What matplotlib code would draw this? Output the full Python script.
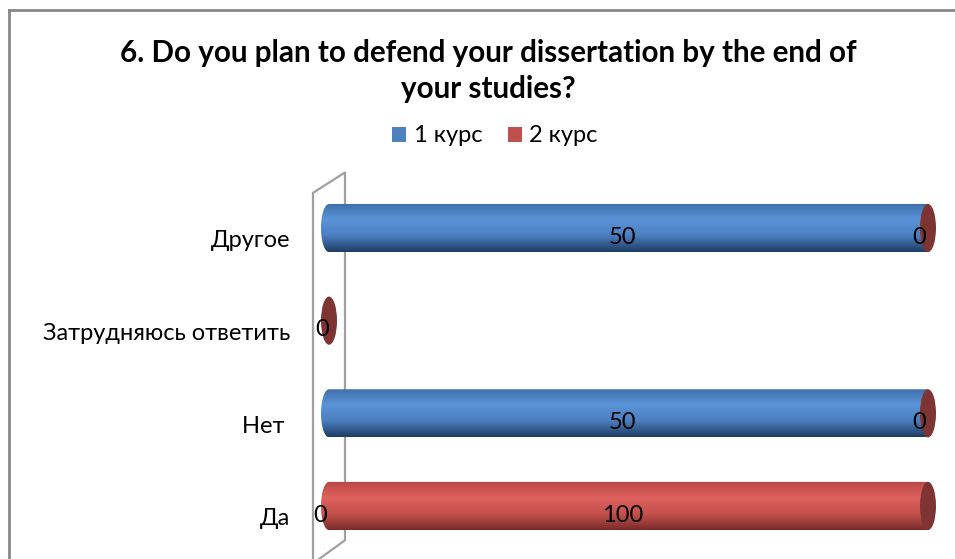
import matplotlib.pyplot as plt
import numpy as np
from matplotlib.patches import Ellipse, PathPatch, Patch
from matplotlib.path import Path
from matplotlib.colors import to_rgb

plt.rcParams['font.family'] = ['Lato', 'Noto Sans', 'DejaVu Sans']

# данные (снизу вверх)
categories = ['Да', 'Нет ', 'Затрудняюсь ответить', 'Другое']
kurs1 = [0, 50, 0, 50]
kurs2 = [100, 0, 0, 0]
series_names = ['1 курс', '2 курс']

title = '6. Do you plan to defend your dissertation by the end of\nyour studies?'

# цвета цилиндров: (край, блик, низ)
blue_stops = ['#3f6fa8', '#5b93d8', '#4b7fc0', '#1f3d63']
red_stops = ['#b84844', '#de615d', '#c5514d', '#7a2c2a']
cap_red = '#7e3432'
fs = 17

fig = plt.figure(figsize=(9.55, 5.59), dpi=100)
W, H = 955, 559

# рамка диаграммы (видна сверху и слева)
fig.add_artist(plt.Line2D([9 / W, 9 / W], [0, 1 - 10 / H], color='#878787', lw=2))
fig.add_artist(plt.Line2D([9 / W, 1], [1 - 10 / H, 1 - 10 / H], color='#878787', lw=2))

ax = fig.add_axes([329 / W, 6.7 / H, 599 / W, 370.6 / H])
ax.set_xlim(0, 100)
ax.set_ylim(-0.5, 3.5)
ax.axis('off')

ew = 2.67   # ширина эллипса торца в единицах данных
bh = 0.52   # толщина цилиндра


def gradient(stops, n=64):
    cols = np.array([to_rgb(c) for c in stops])
    pos = np.linspace(0, 1, len(cols))
    t = np.linspace(0, 1, n)
    img = np.stack([np.interp(t, pos, cols[:, k]) for k in range(3)], axis=1)
    return img[:, None, :]


def body_path(x0, x1, y, rounded_left):
    y0, y1 = y - bh / 2, y + bh / 2
    verts = []
    if rounded_left:
        th = np.linspace(np.pi / 2, 3 * np.pi / 2, 30)
        verts += list(zip(x0 + ew / 2 * np.cos(th), y + bh / 2 * np.sin(th)))
    else:
        verts += [(x0, y1), (x0, y0)]
    verts += [(x1, y0), (x1, y1)]
    verts.append(verts[0])
    codes = [Path.MOVETO] + [Path.LINETO] * (len(verts) - 2) + [Path.CLOSEPOLY]
    return Path(verts, codes)


def cylinder(x0, x1, y, stops, rounded_left):
    patch = PathPatch(body_path(x0, x1, y, rounded_left), fc='none', ec='none')
    ax.add_patch(patch)
    patch.set_clip_on(False)
    im = ax.imshow(gradient(stops), extent=(x0 - ew, x1, y - bh / 2, y + bh / 2),
                   aspect='auto', origin='upper', zorder=2, interpolation='bilinear')
    im.set_clip_box(fig.bbox)
    im.set_clip_path(patch)


# задняя стенка
ax.plot([-2.67, 2.67, 2.67, -2.67, -2.67], [-0.62, -0.37, 3.6, 3.38, -0.62],
        color='#a0a0a0', lw=1.6, clip_on=False, zorder=1)

for i, cat in enumerate(categories):
    a, b = kurs1[i], kurs2[i]
    total = a + b
    ax.text(-6.5, i - 0.14, cat, ha='right', va='center', fontsize=fs, color='#000000')
    if total == 0:
        ax.add_patch(Ellipse((0, i), ew, bh, fc=cap_red, ec='none', zorder=3, clip_on=False))
        ax.text(-1.2, i - 0.1, '0', ha='center', va='center', fontsize=fs, zorder=5)
        continue
    p1 = a / total * 100
    if p1 > 0:
        cylinder(0, p1, i, blue_stops, True)
    if p1 < 100:
        cylinder(p1, 100, i, red_stops, p1 == 0)
    ax.add_patch(Ellipse((100, i), ew, bh, fc=cap_red, ec='none', zorder=3, clip_on=False))
    # подписи значений
    for val, x0, x1 in [(a, 0, p1), (b, p1, 100)]:
        xc = (x0 + x1) / 2
        xc = xc - (1.5 if x1 - x0 < 1 else 1.0)
        ax.text(xc, i - 0.1, str(val), ha='center', va='center', fontsize=fs, zorder=5)

fig.text(488 / W, 1 - 71 / H, title, ha='center', va='center', fontsize=21.3,
         fontweight='bold', linespacing=1.38)

handles = [Patch(fc='#4f81bd', ec='none'), Patch(fc='#c0504d', ec='none')]
fig.legend(handles, series_names, loc='center', bbox_to_anchor=(495 / W, 1 - 136 / H),
           ncol=2, frameon=False, fontsize=fs, handlelength=0.6, handleheight=0.6,
           handletextpad=0.3, columnspacing=1.1)

fig.savefig('out.png', dpi=100)
